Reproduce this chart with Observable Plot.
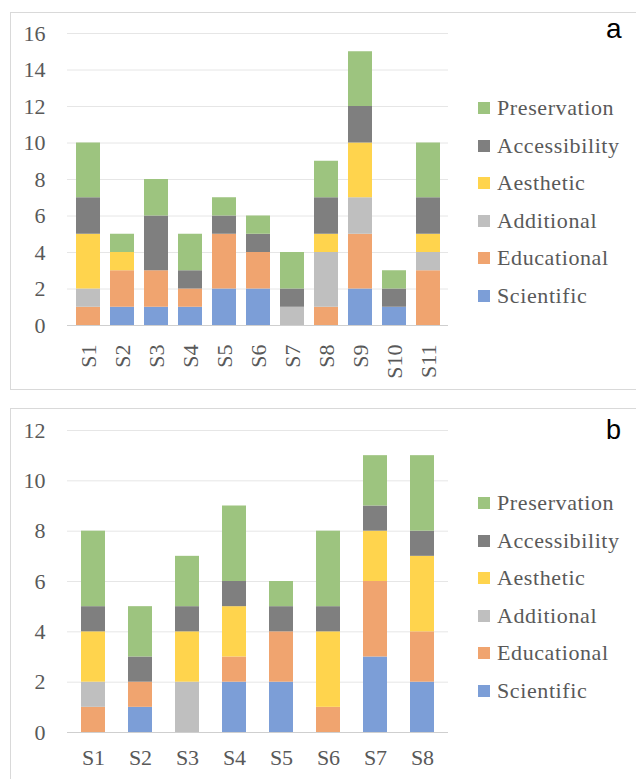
<!DOCTYPE html>
<html>
<head>
<meta charset="utf-8">
<script src="https://cdn.jsdelivr.net/npm/d3@7"></script>
<script src="https://cdn.jsdelivr.net/npm/@observablehq/plot@0.6"></script>
</head>
<body style="margin:0">
<div id="root" style="position:relative;width:636px;height:779px;overflow:hidden;background:#fff"></div>
<script>
// ---- Data ----
const seriesNames = ["Scientific", "Educational", "Additional", "Aesthetic", "Accessibility", "Preservation"];
const seriesColors = ["#7C9ED7", "#F0A46F", "#BFBFBF", "#FFD44D", "#7F7F7F", "#9DC47F"];

// Panel a
const categoriesA = ["S1", "S2", "S3", "S4", "S5", "S6", "S7", "S8", "S9", "S10", "S11"];
const scientificA    = [0, 1, 1, 1, 2, 2, 0, 0, 2, 1, 0];
const educationalA   = [1, 2, 2, 1, 3, 2, 0, 1, 3, 0, 3];
const additionalA    = [1, 0, 0, 0, 0, 0, 1, 3, 2, 0, 1];
const aestheticA     = [3, 1, 0, 0, 0, 0, 0, 1, 3, 0, 1];
const accessibilityA = [2, 0, 3, 1, 1, 1, 1, 2, 2, 1, 2];
const preservationA  = [3, 1, 2, 2, 1, 1, 2, 2, 3, 1, 3];
const yTicksA = [0, 2, 4, 6, 8, 10, 12, 14, 16];

// Panel b
const categoriesB = ["S1", "S2", "S3", "S4", "S5", "S6", "S7", "S8"];
const scientificB    = [0, 1, 0, 2, 2, 0, 3, 2];
const educationalB   = [1, 1, 0, 1, 2, 1, 3, 2];
const additionalB    = [1, 0, 2, 0, 0, 0, 0, 0];
const aestheticB     = [2, 0, 2, 2, 0, 3, 2, 3];
const accessibilityB = [1, 1, 1, 1, 1, 1, 1, 1];
const preservationB  = [3, 2, 2, 3, 1, 3, 2, 3];
const yTicksB = [0, 2, 4, 6, 8, 10, 12];

const SERIF = '"Liberation Serif", serif';
const SANS = '"Liberation Sans", sans-serif';
const root = document.getElementById("root");

function box(left, top, width, height) {
  const d = document.createElement("div");
  Object.assign(d.style, {position: "absolute", left: left + "px", top: top + "px", width: width + "px", height: height + "px",
    boxSizing: "border-box", border: "1px solid #D9D9D9", background: "#fff"});
  root.appendChild(d);
}
box(10, 12, 640, 378);
box(10, 408, 640, 400);

function toRows(cats, seriesArrays) {
  const rows = [];
  seriesNames.forEach((s, j) => {
    cats.forEach((c, i) => {
      const v = seriesArrays[j][i];
      if (v > 0) rows.push({cat: c, series: s, value: v});
    });
  });
  return rows;
}

function makePlot(top, cats, seriesArrays, ticks, opts) {
  const rows = toRows(cats, seriesArrays);
  const max = ticks[ticks.length - 1];
  const svg = Plot.plot({
    width: 460,
    height: opts.height,
    marginTop: opts.marginTop,
    marginBottom: opts.marginBottom,
    marginLeft: 67,
    marginRight: 12,
    style: {fontFamily: SERIF, fontSize: "22px", color: "#595959", background: "transparent", overflow: "visible"},
    x: {domain: cats, paddingInner: opts.paddingInner, paddingOuter: opts.paddingOuter, label: null},
    y: {domain: [0, max], label: null},
    color: {domain: seriesNames, range: seriesColors},
    marks: [
      Plot.gridY(ticks, {stroke: "#E6E6E6", strokeOpacity: 1}),
      Plot.barY(rows, {x: "cat", y: "value", fill: "series", order: seriesNames}),
      Plot.ruleY([0], {stroke: "#CFCFCF", strokeWidth: 1.2}),
      Plot.axisY(ticks, {tickSize: 0, tickPadding: 22, fontSize: 22, fill: "#595959", label: null}),
      opts.rotate
        ? Plot.axisX({tickSize: 0, tickPadding: 19, tickRotate: -90, fontSize: 22, fill: "#595959", label: null})
        : Plot.axisX({tickSize: 0, tickPadding: 17, fontSize: 22, fill: "#595959", label: null})
    ]
  });
  svg.querySelectorAll("text").forEach(t => { t.style.fontFamily = SERIF; t.style.fontSize = "22px"; });
  const wrap = document.createElement("div");
  Object.assign(wrap.style, {position: "absolute", left: "0px", top: top + "px"});
  wrap.appendChild(svg);
  root.appendChild(wrap);
}

makePlot(0, categoriesA, [scientificA, educationalA, additionalA, aestheticA, accessibilityA, preservationA], yTicksA,
  {height: 389, marginTop: 33, marginBottom: 64, paddingInner: 0.3, paddingOuter: 0.15, rotate: true});
makePlot(400, categoriesB, [scientificB, educationalB, additionalB, aestheticB, accessibilityB, preservationB], yTicksB,
  {height: 379, marginTop: 30, marginBottom: 47, paddingInner: 0.5, paddingOuter: 0.25, rotate: false});

function legend(topFirst) {
  const order = seriesNames.slice().reverse();
  order.forEach((s, i) => {
    const sw = document.createElement("div");
    Object.assign(sw.style, {position: "absolute", left: "478px", top: (topFirst + i * 37.6 - 6) + "px", width: "12px", height: "12px",
      background: seriesColors[seriesNames.indexOf(s)]});
    root.appendChild(sw);
    const tx = document.createElement("div");
    tx.textContent = s;
    Object.assign(tx.style, {position: "absolute", left: "497px", top: (topFirst + i * 37.6 - 13) + "px", height: "26px", lineHeight: "26px",
      fontFamily: SERIF, fontSize: "22px", color: "#595959", letterSpacing: "0.6px", whiteSpace: "nowrap"});
    root.appendChild(tx);
  });
}
legend(108);
legend(503);

function tag(text, left, top, size) {
  const t = document.createElement("div");
  t.textContent = text;
  Object.assign(t.style, {position: "absolute", left: left + "px", top: top + "px", fontFamily: SANS, fontSize: size + "px", color: "#000", lineHeight: "1"});
  root.appendChild(t);
}
tag("a", 606, 15, 28);
tag("b", 606, 417, 27);
</script>
</body>
</html>
